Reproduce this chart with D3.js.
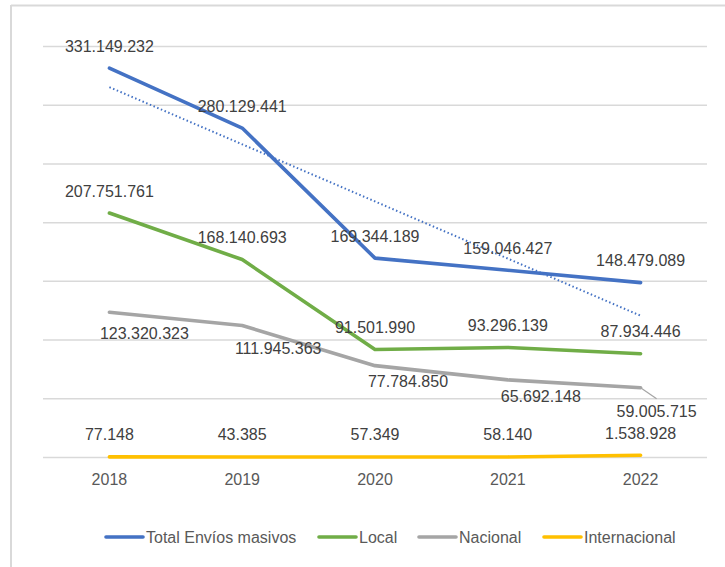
<!DOCTYPE html>
<html>
<head>
<meta charset="utf-8">
<script src="https://cdn.jsdelivr.net/npm/d3@7"></script>
<style>
  html, body { margin: 0; padding: 0; background: #fff; }
  svg { display: block; font-family: "Liberation Sans", Arial, sans-serif; }
</style>
</head>
<body>
<svg width="725" height="567"></svg>
<script>
const years = ["2018", "2019", "2020", "2021", "2022"];
const totalEnvios = [331149232, 280129441, 169344189, 159046427, 148479089];
const local = [207751761, 168140693, 91501990, 93296139, 87934446];
const nacional = [123320323, 111945363, 77784850, 65692148, 59005715];
const internacional = [77148, 43385, 57349, 58140, 1538928];
const seriesNames = ["Total Envíos masivos", "Local", "Nacional", "Internacional"];
const yTicks = [0, 50e6, 100e6, 150e6, 200e6, 250e6, 300e6, 350e6];

// label offsets (px) from each point, set by hand like in the sheet
const labelOffsets = [
  [[0, -22], [0, -22], [0, -22], [0, -22], [0, -22]],
  [[0, -22], [0, -22], [0, -22], [0, -22], [0, -22]],
  [[35, 21], [36, 23], [33, 16], [33, 17], [16, 24]],
  [[0, -22], [0, -22], [0, -22], [0, -22], [0, -22]]
];
const colours = ["#4472C4", "#70AD47", "#A5A5A5", "#FFC000"];
const margin = { top: 46, right: 18, bottom: 110, left: 43 };
const width = 725, height = 567;

const series = [totalEnvios, local, nacional, internacional].map((vals, i) => ({
  name: seriesNames[i],
  colour: colours[i],
  offsets: labelOffsets[i],
  values: vals.map((v, j) => ({ year: years[j], value: v, j }))
}));

const fmt = v => d3.format(",")(v).replace(/,/g, ".");

const svg = d3.select("svg");

// outer frame (only top and left edges show in the shot)
svg.append("line").attr("x1", 11).attr("x2", width).attr("y1", 5.5).attr("y2", 5.5)
  .attr("stroke", "#D9D9D9").attr("stroke-width", 2);
svg.append("line").attr("x1", 11).attr("x2", 11).attr("y1", 5).attr("y2", height)
  .attr("stroke", "#D9D9D9").attr("stroke-width", 2);

const x = d3.scaleBand()
  .domain(years)
  .range([margin.left, width - margin.right]);
const y = d3.scaleLinear()
  .domain([0, 350e6])
  .range([height - margin.bottom, margin.top]);
const cx = d => x(d) + x.bandwidth() / 2;

// gridlines
svg.append("g")
  .attr("transform", `translate(${margin.left},0)`)
  .call(d3.axisLeft(y).tickValues(yTicks).tickSize(-(width - margin.left - margin.right)).tickFormat(""))
  .call(g => g.select(".domain").remove())
  .call(g => g.selectAll(".tick line").attr("stroke", "#D9D9D9").attr("stroke-width", 1.5));

// x axis labels
svg.append("g")
  .attr("transform", `translate(0,${height - margin.bottom})`)
  .call(d3.axisBottom(x).tickSize(0).tickPadding(17))
  .call(g => g.select(".domain").remove())
  .call(g => g.selectAll("text").attr("fill", "#595959").attr("font-size", 16)
    .attr("font-family", "Liberation Sans, Arial, sans-serif"));

const line = d3.line().x(d => cx(d.year)).y(d => y(d.value));

// linear trend of total (dotted)
const xm = d3.mean(totalEnvios, (d, i) => i);
const ym = d3.mean(totalEnvios);
const slope = d3.sum(totalEnvios, (d, i) => (i - xm) * (d - ym)) / d3.sum(totalEnvios, (d, i) => (i - xm) ** 2);
const trend = years.map((yr, i) => ({ year: yr, value: ym + slope * (i - xm) }));

// leader line for the last Nacional label
const lastNac = nacional[nacional.length - 1];
svg.append("line")
  .attr("x1", cx("2022")).attr("y1", y(lastNac))
  .attr("x2", cx("2022") + 16).attr("y2", y(lastNac) + 11)
  .attr("stroke", "#A5A5A5").attr("stroke-width", 1.2);

svg.selectAll(".series")
  .data(series.slice().reverse())
  .enter()
  .append("path")
  .attr("class", "series")
  .attr("d", d => line(d.values))
  .attr("fill", "none")
  .attr("stroke", d => d.colour)
  .attr("stroke-width", 3.6)
  .attr("stroke-linecap", "round")
  .attr("stroke-linejoin", "round");

svg.append("path")
  .attr("d", line(trend))
  .attr("fill", "none")
  .attr("stroke", "#4472C4")
  .attr("stroke-width", 2)
  .attr("stroke-dasharray", "1.5 2.5");

// data labels
series.forEach(s => {
  svg.selectAll(null)
    .data(s.values)
    .enter()
    .append("text")
    .attr("x", d => cx(d.year) + s.offsets[d.j][0])
    .attr("y", d => y(d.value) + s.offsets[d.j][1])
    .attr("text-anchor", "middle")
    .attr("dominant-baseline", "central")
    .attr("fill", "#404040")
    .attr("font-size", 16)
    .text(d => fmt(d.value));
});

// legend
const legendX = [106, 319, 419, 544];
const legend = svg.selectAll(".legend")
  .data(series)
  .enter()
  .append("g")
  .attr("class", "legend")
  .attr("transform", (d, i) => `translate(${legendX[i]},537)`);
legend.append("line")
  .attr("x1", 0).attr("x2", 37)
  .attr("stroke", d => d.colour)
  .attr("stroke-width", 3.6)
  .attr("stroke-linecap", "round");
legend.append("text")
  .attr("x", 40)
  .attr("dominant-baseline", "central")
  .attr("fill", "#595959")
  .attr("font-size", 16)
  .text(d => d.name);
</script>
</body>
</html>
